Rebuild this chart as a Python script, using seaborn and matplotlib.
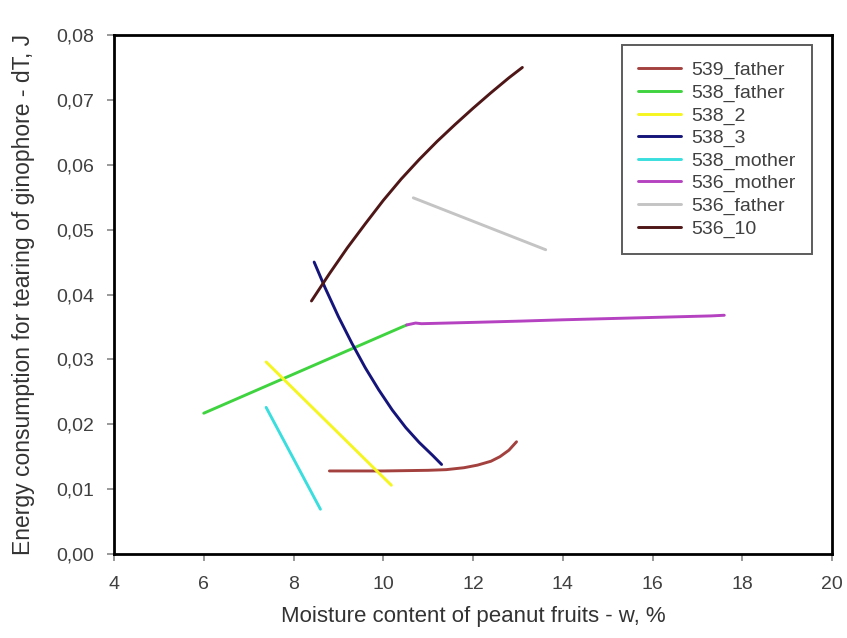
import numpy as np
import pandas as pd
import matplotlib
matplotlib.use("Agg")
import matplotlib.pyplot as plt
import seaborn as sns
from matplotlib.ticker import FuncFormatter

# ---- data ----
x_539_father = [8.8, 10.0, 11.0, 11.4, 11.8, 12.1, 12.4, 12.6, 12.8, 12.97]
y_539_father = [0.0128, 0.0128, 0.0129, 0.0130, 0.0133, 0.0137, 0.0143, 0.0150, 0.0160, 0.0173]

x_538_father = [6.0, 10.52]
y_538_father = [0.0217, 0.0353]

x_538_2 = [7.39, 10.18]
y_538_2 = [0.0296, 0.0106]

x_538_3 = [8.46, 8.7, 9.0, 9.3, 9.6, 9.9, 10.2, 10.5, 10.8, 11.1, 11.3]
y_538_3 = [0.0450, 0.0411, 0.0366, 0.0325, 0.0287, 0.0253, 0.0222, 0.0195, 0.0172, 0.0152, 0.0138]

x_538_mother = [7.39, 8.60]
y_538_mother = [0.0226, 0.0069]

x_536_mother = [10.52, 10.72, 10.85, 12.0, 13.07, 14.0, 15.1, 16.2, 17.3, 17.6]
y_536_mother = [0.0353, 0.0356, 0.0355, 0.0357, 0.0359, 0.0361, 0.0363, 0.0365, 0.0367, 0.0368]

x_536_father = [10.67, 13.62]
y_536_father = [0.0549, 0.0469]

x_536_10 = [8.4, 8.8, 9.2, 9.6, 10.0, 10.4, 10.8, 11.2, 11.6, 12.0, 12.4, 12.8, 13.1]
y_536_10 = [0.0390, 0.0432, 0.0472, 0.0509, 0.0545, 0.0578, 0.0608, 0.0636, 0.0662,
            0.0687, 0.0711, 0.0734, 0.0750]

series_names = ["539_father", "538_father", "538_2", "538_3",
                "538_mother", "536_mother", "536_father", "536_10"]
series_x = [x_539_father, x_538_father, x_538_2, x_538_3,
            x_538_mother, x_536_mother, x_536_father, x_536_10]
series_y = [y_539_father, y_538_father, y_538_2, y_538_3,
            y_538_mother, y_536_mother, y_536_father, y_536_10]
colors = ["#a3413f", "#3fd43f", "#f5f520", "#14147a",
          "#3adede", "#b542c0", "#c4c4c4", "#4e1616"]

x_ticks = [4, 6, 8, 10, 12, 14, 16, 18, 20]
y_ticks = [0.00, 0.01, 0.02, 0.03, 0.04, 0.05, 0.06, 0.07, 0.08]

rows = []
for name, xs, ys in zip(series_names, series_x, series_y):
    for i, (xv, yv) in enumerate(zip(xs, ys)):
        rows.append({"series": name, "x": xv, "y": yv, "order": i})
df = pd.DataFrame(rows)

sns.set_theme(style="white")
plt.rcParams['font.family'] = ['Liberation Sans', 'DejaVu Sans']

fig = plt.figure(figsize=(8.47, 6.38), dpi=100)
ax = fig.add_axes([114/847, 1-554/638, (832-114)/847, (554-35)/638])

sns.lineplot(data=df, x="x", y="y", hue="series", hue_order=series_names,
             palette=dict(zip(series_names, colors)), sort=False,
             estimator=None, linewidth=2.1, ax=ax)

ax.set_xlim(4, 20)
ax.set_ylim(0, 0.08)
ax.set_xticks(x_ticks)
ax.set_yticks(y_ticks)
ax.yaxis.set_major_formatter(FuncFormatter(lambda v, p: f"{v:.2f}".replace(".", ",")))

for s in ax.spines.values():
    s.set_color("black")
    s.set_linewidth(2.0)
ax.tick_params(axis="both", direction="out", length=5, width=1.2, color="#888888",
               labelsize=14, labelcolor="#404040", bottom=True, left=True)
ax.tick_params(axis="x", pad=10.5)
ax.tick_params(axis="y", pad=9.3)

ax.set_xlabel("Moisture content of peanut fruits - w, %", fontsize=16, color="#333333", labelpad=10)
ax.set_ylabel("Energy consumption for tearing of ginophore - dT, J", fontsize=16.5, color="#333333", labelpad=15)

leg = ax.legend(loc="upper right", bbox_to_anchor=(0.972, 0.981), fontsize=14,
                frameon=True, fancybox=False, handlelength=2.2, handletextpad=0.5,
                labelspacing=0.25, borderpad=0.85, labelcolor="#404040", borderaxespad=0)
leg.get_frame().set_edgecolor("#333333")
leg.get_frame().set_linewidth(1.4)
for line in leg.get_lines():
    line.set_linewidth(2.1)

fig.savefig("out.png", dpi=100)
